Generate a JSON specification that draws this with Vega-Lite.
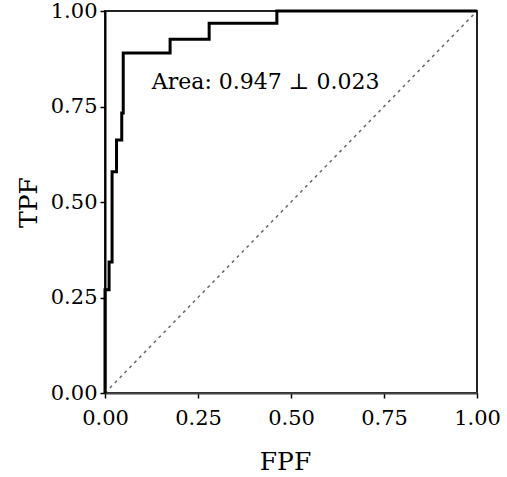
{
  "$schema": "https://vega.github.io/schema/vega-lite/v6.json",
  "width": 372,
  "height": 382,
  "autosize": {"type": "none"},
  "padding": {"left": 105, "top": 11, "right": 30, "bottom": 84},
  "background": "white",
  "config": {
    "view": {"stroke": "#222", "strokeWidth": 2},
    "axis": {
      "grid": false,
      "labelFont": "DejaVu Serif",
      "labelFontSize": 21,
      "labelColor": "black",
      "labelFlush": false,
      "titleFont": "DejaVu Serif",
      "titleFontSize": 25,
      "titleFontWeight": "normal",
      "titleColor": "black",
      "domainColor": "black",
      "domainWidth": 2,
      "tickColor": "black",
      "tickWidth": 1.5,
      "tickSize": 5
    }
  },
  "layer": [
    {
      "data": {"values": [{"fpf": 0, "tpf": 0}, {"fpf": 1, "tpf": 1}]},
      "mark": {"type": "line", "color": "#666", "strokeWidth": 1.5, "strokeDash": [3, 4]},
      "encoding": {
        "x": {"field": "fpf", "type": "quantitative", "scale": {"domain": [0, 1]},
          "axis": {"title": "FPF", "values": [0, 0.25, 0.5, 0.75, 1], "format": ".2f", "labelPadding": 9, "titleY": 76, "titleX": 180, "titleBaseline": "alphabetic", "domainColor": "#444"}},
        "y": {"field": "tpf", "type": "quantitative", "scale": {"domain": [0, 1]},
          "axis": {"title": "TPF", "values": [0, 0.25, 0.5, 0.75, 1], "format": ".2f", "labelPadding": 3, "titleX": -69, "titleBaseline": "alphabetic"}}
      }
    },
    {
      "data": {"values": [
        {"o": 1, "fpf": 0, "tpf": 0},
        {"o": 2, "fpf": 0, "tpf": 0.27},
        {"o": 3, "fpf": 0.011, "tpf": 0.27},
        {"o": 4, "fpf": 0.011, "tpf": 0.343},
        {"o": 5, "fpf": 0.019, "tpf": 0.343},
        {"o": 6, "fpf": 0.019, "tpf": 0.579},
        {"o": 7, "fpf": 0.031, "tpf": 0.579},
        {"o": 8, "fpf": 0.031, "tpf": 0.662},
        {"o": 9, "fpf": 0.045, "tpf": 0.662},
        {"o": 10, "fpf": 0.045, "tpf": 0.733},
        {"o": 11, "fpf": 0.049, "tpf": 0.733},
        {"o": 12, "fpf": 0.049, "tpf": 0.89},
        {"o": 13, "fpf": 0.175, "tpf": 0.89},
        {"o": 14, "fpf": 0.175, "tpf": 0.926},
        {"o": 15, "fpf": 0.28, "tpf": 0.926},
        {"o": 16, "fpf": 0.28, "tpf": 0.968},
        {"o": 17, "fpf": 0.462, "tpf": 0.968},
        {"o": 18, "fpf": 0.462, "tpf": 1},
        {"o": 19, "fpf": 1, "tpf": 1}
      ]},
      "mark": {"type": "line", "color": "black", "strokeWidth": 3, "clip": false},
      "encoding": {
        "x": {"field": "fpf", "type": "quantitative"},
        "y": {"field": "tpf", "type": "quantitative"},
        "order": {"field": "o", "type": "quantitative"}
      }
    },
    {
      "data": {"values": [{"fpf": 0.126, "tpf": 0.796, "label": "Area: 0.947 ⊥ 0.023"}]},
      "mark": {"type": "text", "font": "DejaVu Serif", "fontSize": 22, "align": "left", "baseline": "alphabetic", "color": "black"},
      "encoding": {
        "x": {"field": "fpf", "type": "quantitative"},
        "y": {"field": "tpf", "type": "quantitative"},
        "text": {"field": "label"}
      }
    }
  ]
}
